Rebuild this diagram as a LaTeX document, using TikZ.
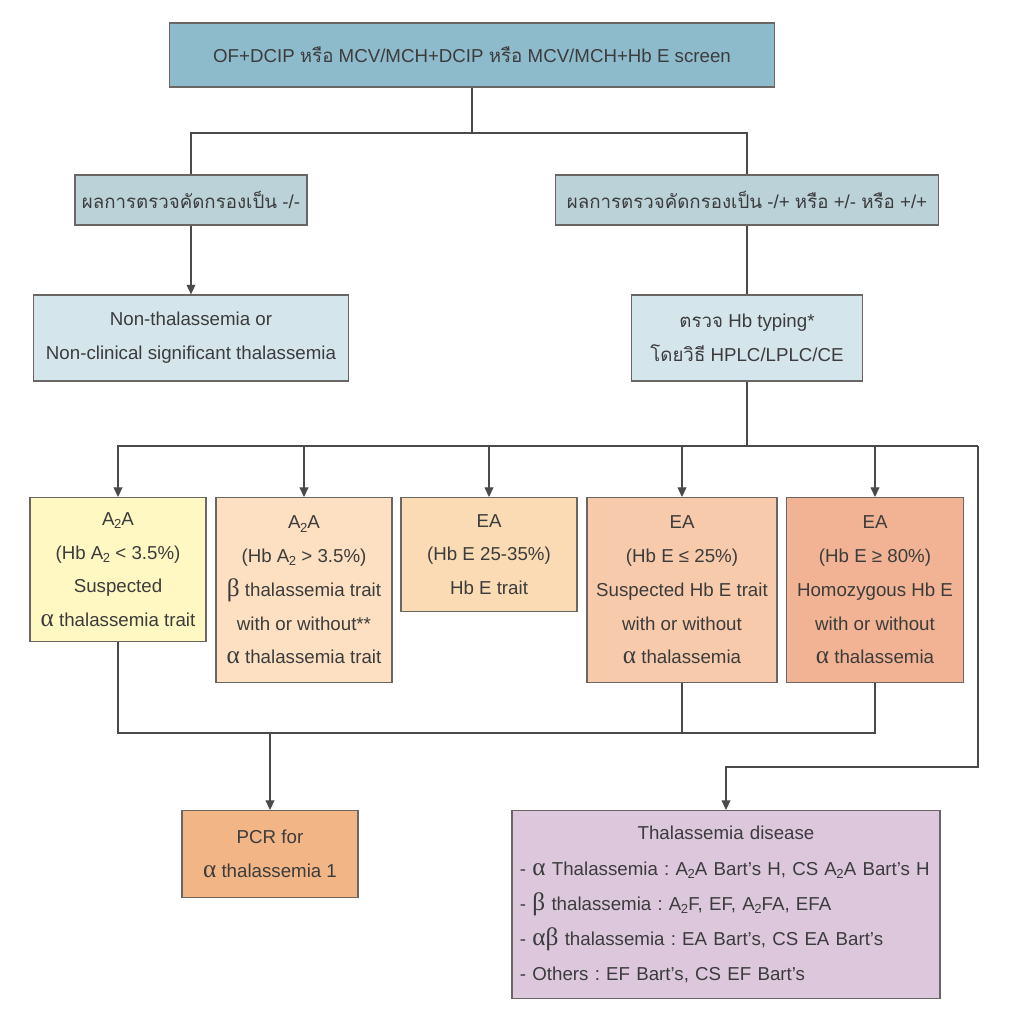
\documentclass[tikz,border=0pt]{standalone}
\usepackage{fontspec}
\setmainfont{Liberation Sans}
\newfontfamily\thaifont[Script=Thai]{Loma}
\newfontfamily\greekfont{Liberation Serif}
\usepackage{xcolor}
\usepackage{tikz}
\usetikzlibrary{arrows.meta,positioning}
\definecolor{THtext}{HTML}{3C3C3C}
\definecolor{THline}{HTML}{4A4A4A}
\definecolor{THborder}{HTML}{6A6663}
\definecolor{THtop}{HTML}{8EBBCB}
\definecolor{THscreen}{HTML}{BBD2D9}
\definecolor{THresult}{HTML}{D4E5EB}
\definecolor{THyellow}{HTML}{FFF8C3}
\definecolor{THpeachA}{HTML}{FCE0C1}
\definecolor{THpeachB}{HTML}{FADBB3}
\definecolor{THsalmonA}{HTML}{F7CAAC}
\definecolor{THsalmonB}{HTML}{F1B393}
\definecolor{THpcr}{HTML}{F2B585}
\definecolor{THdisease}{HTML}{DCC7DC}
\tikzset{
  fc/box/.style={draw=THborder, line width=0.9pt, align=center, inner sep=3pt, text=THtext, font=\fontsize{13.3}{24}\selectfont\frenchspacing},
  fc/line/.style={draw=THline, line width=0.8pt},
  fc/arrow/.style={fc/line, -{Triangle[length=2.4mm,width=2.2mm]}}
}
\newcommand{\thai}[1]{{\thaifont #1}}
\newcommand{\grk}[1]{{\greekfont\fontsize{18}{20}\selectfont #1}}
\newcommand{\Atwo}{A\kern-0.03em\textsubscript{2}\kern-0.03em}

\begin{document}
\begin{tikzpicture}[x=0.025cm, y=-0.025cm]
  \useasboundingbox (0,0) rectangle (1009,1024);
  \node[fc/box, fill=THtop, minimum width=15.125cm, minimum height=1.6cm] (screen) at (472,55)
    {OF+DCIP \thai{หรือ} MCV/MCH+DCIP \thai{หรือ} MCV/MCH+Hb E screen};
  \node[fc/box, fill=THscreen, minimum width=5.8cm, minimum height=1.25cm] (negneg) at (191,200)
    {\thai{ผลการตรวจคัดกรองเป็น} -/-};
  \node[fc/box, fill=THscreen, minimum width=9.575cm, minimum height=1.25cm] (pos) at (747,200)
    {\thai{ผลการตรวจคัดกรองเป็น} -/+ \thai{หรือ} +/- \thai{หรือ} +/+};
  \node[fc/box, fill=THresult, minimum width=7.875cm, minimum height=2.15cm] (nonthal) at (191,338)
    {Non-thalassemia or\\Non-clinical significant thalassemia};
  \node[fc/box, fill=THresult, minimum width=5.775cm, minimum height=2.15cm] (typing) at (747,338)
    {\thai{ตรวจ} Hb typing*\\\thai{โดยวิธี} HPLC/LPLC/CE};

  \node[fc/box, fill=THyellow, minimum width=4.4cm, minimum height=3.6cm, anchor=north] (aalow) at (118,497)
    {\Atwo A\\(Hb \Atwo{} < 3.5\%)\\Suspected\\\grk{α} thalassemia trait};
  \node[fc/box, fill=THpeachA, minimum width=4.4cm, minimum height=4.625cm, anchor=north] (aahigh) at (304,497)
    {\Atwo A\\(Hb \Atwo{} > 3.5\%)\\\grk{β} thalassemia trait\\with or without**\\\grk{α} thalassemia trait};
  \node[fc/box, fill=THpeachB, minimum width=4.4cm, minimum height=2.85cm, anchor=north] (eatrait) at (489,497)
    {EA\\(Hb E 25-35\%)\\Hb E trait};
  \node[fc/box, fill=THsalmonA, minimum width=4.75cm, minimum height=4.625cm, anchor=north] (ealow) at (682,497)
    {EA\\(Hb E ≤ 25\%)\\Suspected Hb E trait\\with or without\\\grk{α} thalassemia};
  \node[fc/box, fill=THsalmonB, minimum width=4.425cm, minimum height=4.625cm, anchor=north] (eahomo) at (875,497)
    {EA\\(Hb E ≥ 80\%)\\Homozygous Hb E\\with or without\\\grk{α} thalassemia};

  \node[fc/box, fill=THpcr, minimum width=4.4cm, minimum height=2.175cm, anchor=north] (pcr) at (270,810)
    {PCR for\\\grk{α} thalassemia 1};
  \node[fc/box, fill=THdisease, minimum width=10.7cm, minimum height=4.7cm, anchor=north,
        align=left, text width=10.3cm, inner xsep=0.2cm, font=\fontsize{13.3}{25}\selectfont\frenchspacing] (disease) at (726,810)
    {\makebox[10.3cm]{Thalassemia disease}\\
     - \grk{α} Thalassemia : \Atwo A Bart's H, CS \Atwo A Bart's H\\
     - \grk{β} thalassemia : \Atwo F, EF, \Atwo FA, EFA\\
     - \grk{αβ} thalassemia : EA Bart's, CS EA Bart's\\
     - Others : EF Bart's, CS EF Bart's};

  \coordinate (fork) at (472,133);
  \coordinate (split) at (747,446);
  \coordinate (farright) at (978,446);
  \coordinate (turn) at (978,767);
  \coordinate (merge) at (270,733);

  \draw[fc/line] (screen.south) -- (fork) -| (negneg.north);
  \draw[fc/line] (fork) -| (pos.north);
  \draw[fc/arrow] (negneg) -- (nonthal);
  \draw[fc/line] (pos) -- (typing);
  \draw[fc/line] (typing.south) -- (split) -- (farright);
  \foreach \b in {aalow,aahigh,eatrait,ealow,eahomo}
    \draw[fc/arrow] (split) -| (\b.north);
  \draw[fc/arrow] (farright) -- (turn) -| (disease.north);
  \draw[fc/line] (aalow.south) |- (eahomo.south |- merge) -- (eahomo.south);
  \draw[fc/line] (ealow.south) -- (ealow.south |- merge);
  \draw[fc/arrow] (merge) -- (pcr.north);
\end{tikzpicture}
\end{document}
